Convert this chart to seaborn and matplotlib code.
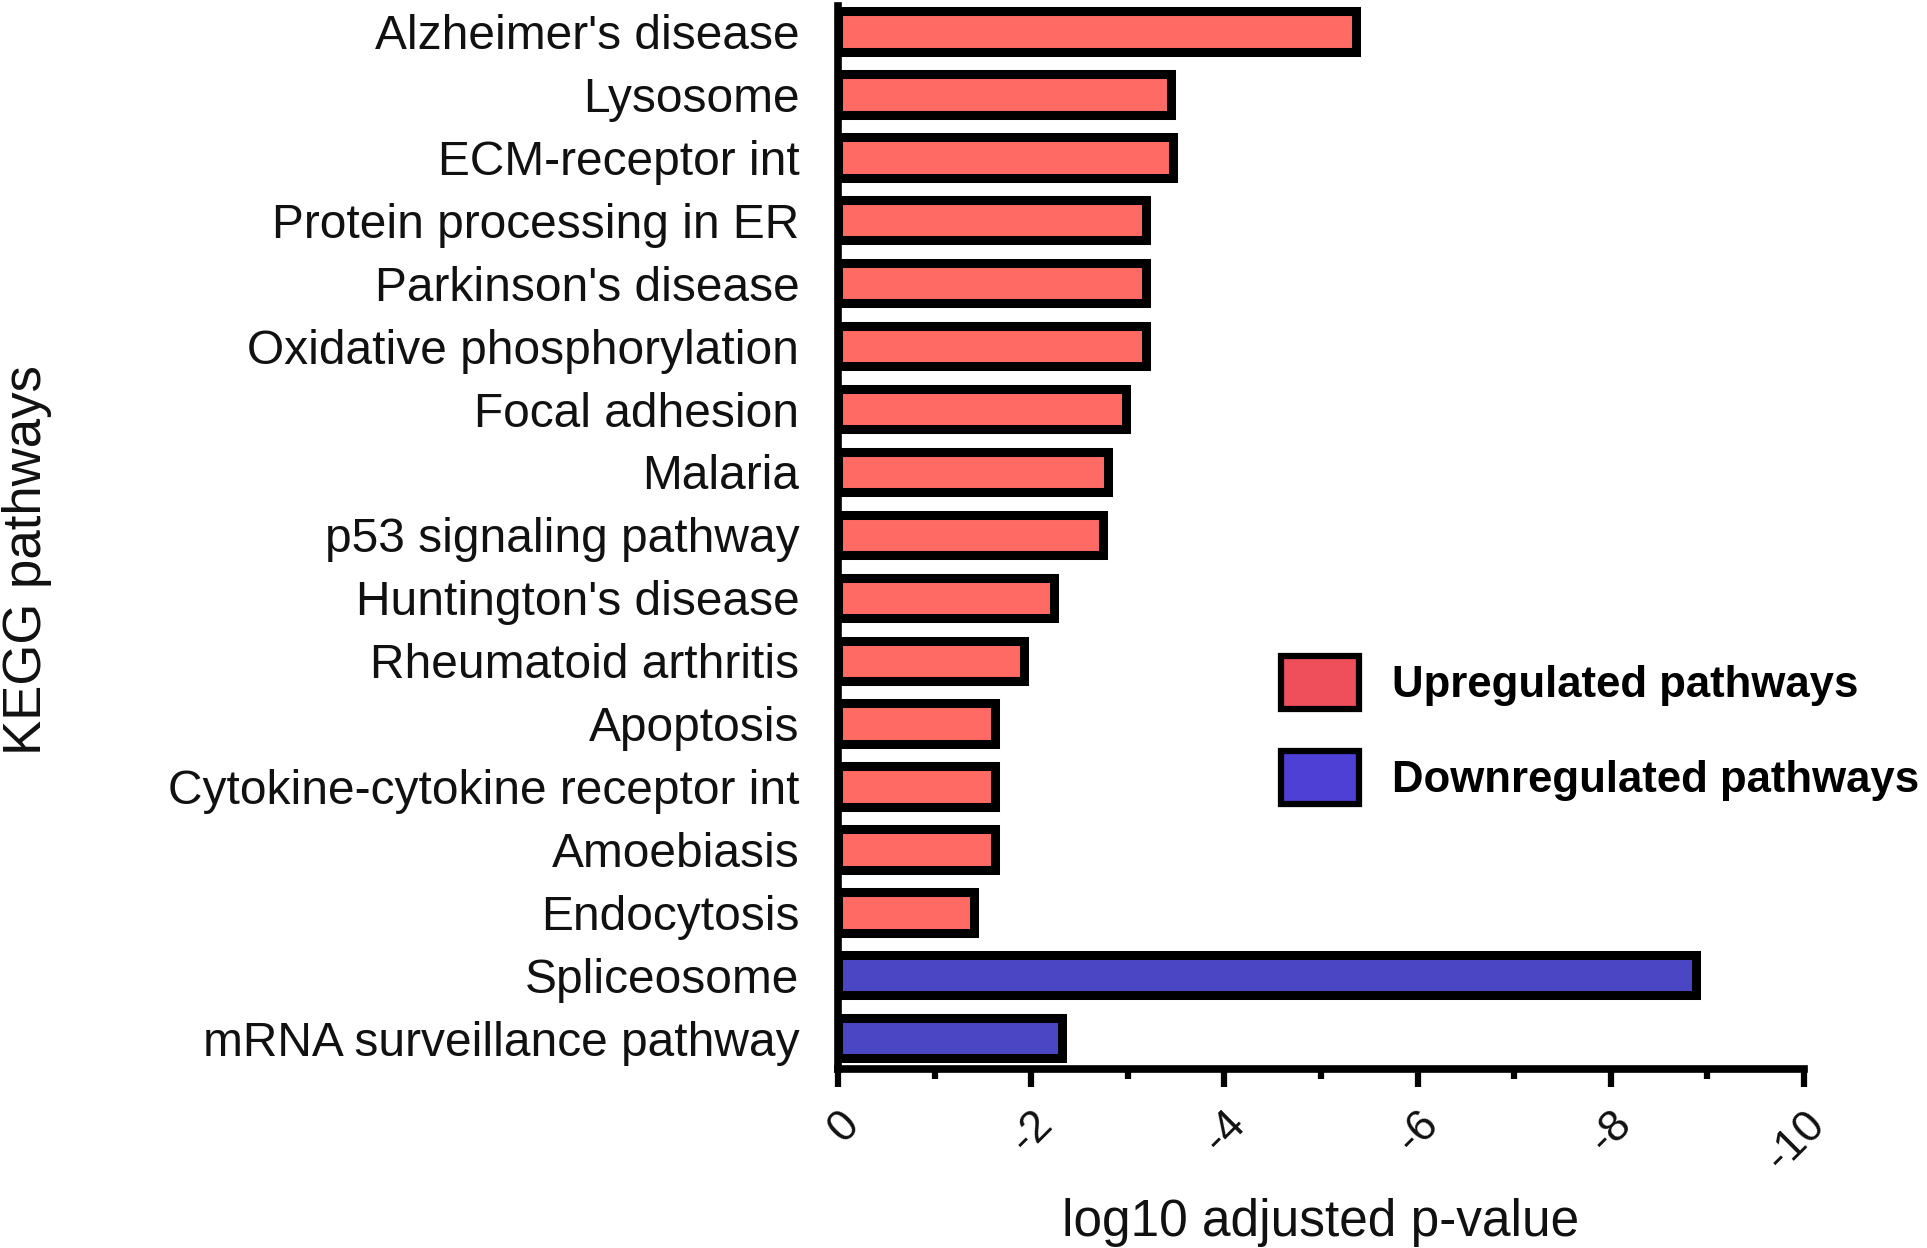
import matplotlib
matplotlib.use("Agg")
import matplotlib.pyplot as plt
from matplotlib.patches import Patch
from matplotlib.ticker import MultipleLocator
import seaborn as sns
import pandas as pd

categories = ["Alzheimer's disease", "Lysosome", "ECM-receptor int", "Protein processing in ER",
              "Parkinson's disease", "Oxidative phosphorylation", "Focal adhesion", "Malaria",
              "p53 signaling pathway", "Huntington's disease", "Rheumatoid arthritis", "Apoptosis",
              "Cytokine-cytokine receptor int", "Amoebiasis", "Endocytosis", "Spliceosome",
              "mRNA surveillance pathway"]
values = [-5.36, -3.45, -3.47, -3.19, -3.19, -3.19, -2.98, -2.79, -2.74, -2.23, -1.92,
          -1.62, -1.62, -1.62, -1.41, -8.88, -2.32]
groups = ["Upregulated pathways"] * 15 + ["Downregulated pathways"] * 2
group_order = ["Upregulated pathways", "Downregulated pathways"]
xticks = [0, -2, -4, -6, -8, -10]
xtick_labels = ["0", "-2", "-4", "-6", "-8", "-10"]

bar_colors = {"Upregulated pathways": "#FF6A64", "Downregulated pathways": "#4B47C4"}
legend_colors = {"Upregulated pathways": "#EF4F5A", "Downregulated pathways": "#4E40D4"}

df = pd.DataFrame({"pathway": categories, "value": values, "group": groups})

sns.set_theme(style="white")
plt.rcParams["font.family"] = ["Liberation Sans", "DejaVu Sans"]

fig = plt.figure(figsize=(19.27, 12.48), dpi=100)
ax = fig.add_axes([0.435, 0.1434, 0.501, 0.852])

sns.barplot(data=df, x="value", y="pathway", hue="group", hue_order=group_order,
            palette=bar_colors, order=categories, orient="h", dodge=False,
            width=0.64, edgecolor="black", linewidth=6.5, legend=False, ax=ax,
            saturation=1)

ax.set_xlim(0, -10)
ax.set_ylim(16.49, -0.41)
ax.set_xticks(xticks)
ax.set_xticklabels(xtick_labels, rotation=45, ha="right", va="top",
                   rotation_mode="anchor", fontsize=32, color="#111111")
ax.xaxis.set_minor_locator(MultipleLocator(1))
ax.tick_params(axis="x", which="major", length=13, width=4.5, color="black",
               direction="out", bottom=True, pad=12)
ax.tick_params(axis="x", which="minor", length=7, width=4.5, color="black",
               direction="out", bottom=True)
ax.tick_params(axis="y", length=0, pad=28, labelsize=34.5, labelcolor="#111111")

for s in ["top", "right"]:
    ax.spines[s].set_visible(False)
for s in ["left", "bottom"]:
    ax.spines[s].set_visible(True)
    ax.spines[s].set_linewidth(5.5)
    ax.spines[s].set_color("black")

ax.set_xlabel("log10 adjusted p-value", fontsize=37, color="#111111", labelpad=14)
ax.set_ylabel("")
fig.text(0.014, 0.551, "KEGG pathways", rotation=90, fontsize=38, color="#111111",
         ha="center", va="center")

handles = [Patch(facecolor=legend_colors[g], edgecolor="black", linewidth=4.5, label=g)
           for g in group_order]
leg = ax.legend(handles=handles, loc="upper left", bbox_to_anchor=(0.44, 0.405),
                frameon=False, prop={"size": 31.5, "weight": "bold"},
                handlelength=1.8, handleheight=1.5, handletextpad=0.75, labelspacing=0.95,
                borderaxespad=0)
for t in leg.get_texts():
    t.set_color("black")

fig.savefig("out.png", dpi=100, facecolor="white")
